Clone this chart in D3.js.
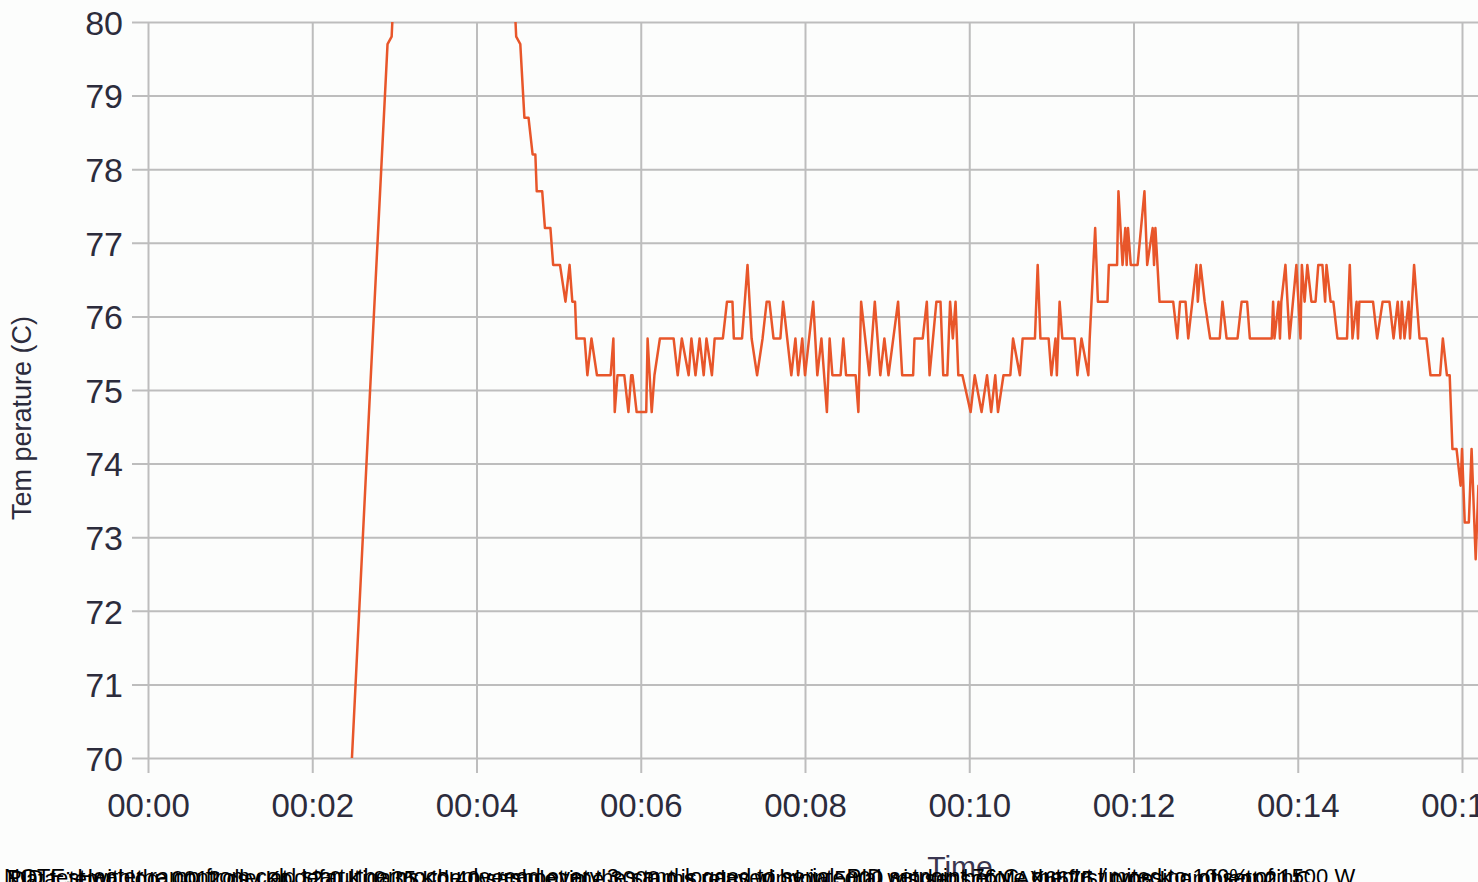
<!DOCTYPE html>
<html>

<head>
  <title>Temperature log</title>
  <script src="https://cdn.jsdelivr.net/npm/d3@7"></script>
  <style type="text/css">
    body {
      margin: 0;
      background-color: #fcfdfc;
      overflow: hidden;
    }

    text {
      font-family: "Liberation Sans", Arial, sans-serif;
      fill: #2c2c3c;
    }

    .grid line {
      stroke: #bdbdbd;
      stroke-width: 2;
    }

    .temp-line {
      fill: none;
      stroke: #e8562a;
      stroke-width: 2.5;
      stroke-linejoin: round;
    }
  </style>
</head>

<body>
  <div id="chartArea"></div>
  <script type="text/javascript">
    // elapsed time in seconds
    let timeSec = [
      126, 149, 162, 175, 178, 181, 206, 243, 261, 269, 272, 275, 278, 281, 283, 284, 288, 290, 294, 296,
      301, 305, 308, 310, 312, 313, 319, 321, 324, 328, 338, 340, 341, 343, 348, 351, 353, 354, 357, 364,
      365, 368, 370, 374, 379, 384, 387, 390, 395, 397, 400, 403, 406, 408, 412, 414, 420, 423, 427, 428,
      434, 438, 441, 445, 449, 452, 454, 457, 462, 464, 467, 470, 473, 475, 478, 480, 486, 489, 492, 496,
      498, 500, 506, 508, 510, 517, 519, 521, 527, 531, 535, 538, 541, 548, 551, 559, 560, 566, 569, 571,
      576, 579, 581, 584, 586, 588, 590, 592, 595, 601, 604, 609, 613, 616, 619, 621, 625, 630, 632, 637,
      639, 648, 650, 652, 658, 660, 663, 664, 666, 668, 677, 679, 682, 687, 688, 692, 694, 701, 702, 708,
      709, 712, 714, 715, 716, 718, 723, 728, 730, 734, 735, 736, 739, 749, 752, 754, 758, 760, 763, 766,
      767, 769, 772, 776, 783, 785, 788, 796, 799, 803, 805, 821, 822, 823, 826, 827, 828, 831, 834, 839,
      842, 843, 845, 847, 850, 853, 855, 858, 860, 861, 864, 866, 869, 876, 878, 880, 883, 884, 885, 889,
      895, 898, 902, 907, 910, 913, 915, 916, 918, 921, 922, 925, 929, 934, 937, 944, 946, 949, 951, 953,
      956, 959, 960, 962, 965, 967, 970, 972, 973
    ];

    // temperature in degrees C
    let tempC = [
      61.3, 70.0, 74.9, 79.7, 79.8, 81.0, 88.0, 86.5, 83.0, 79.8, 79.7, 78.7, 78.7, 78.2, 78.2, 77.7, 77.7, 77.2, 77.2, 76.7,
      76.7, 76.2, 76.7, 76.2, 76.2, 75.7, 75.7, 75.2, 75.7, 75.2, 75.2, 75.7, 74.7, 75.2, 75.2, 74.7, 75.2, 75.2, 74.7, 74.7,
      75.7, 74.7, 75.2, 75.7, 75.7, 75.7, 75.2, 75.7, 75.2, 75.7, 75.2, 75.7, 75.2, 75.7, 75.2, 75.7, 75.7, 76.2, 76.2, 75.7,
      75.7, 76.7, 75.7, 75.2, 75.7, 76.2, 76.2, 75.7, 75.7, 76.2, 75.7, 75.2, 75.7, 75.2, 75.7, 75.2, 76.2, 75.2, 75.7, 74.7,
      75.7, 75.2, 75.2, 75.7, 75.2, 75.2, 74.7, 76.2, 75.2, 76.2, 75.2, 75.7, 75.2, 76.2, 75.2, 75.2, 75.7, 75.7, 76.2, 75.2,
      76.2, 76.2, 75.2, 75.2, 76.2, 75.7, 76.2, 75.2, 75.2, 74.7, 75.2, 74.7, 75.2, 74.7, 75.2, 74.7, 75.2, 75.2, 75.7, 75.2,
      75.7, 75.7, 76.7, 75.7, 75.7, 75.2, 75.7, 75.2, 76.2, 75.7, 75.7, 75.2, 75.7, 75.2, 75.7, 77.2, 76.2, 76.2, 76.7, 76.7,
      77.7, 76.7, 77.2, 76.7, 77.2, 76.7, 76.7, 77.7, 76.7, 77.2, 76.7, 77.2, 76.2, 76.2, 75.7, 76.2, 76.2, 75.7, 76.2, 76.7,
      76.2, 76.7, 76.2, 75.7, 75.7, 76.2, 75.7, 75.7, 76.2, 76.2, 75.7, 75.7, 76.2, 75.7, 76.2, 75.7, 76.2, 76.7, 75.7, 76.7,
      75.7, 76.7, 76.2, 76.7, 76.2, 76.2, 76.7, 76.7, 76.2, 76.7, 76.2, 76.2, 75.7, 75.7, 76.7, 75.7, 76.2, 75.7, 76.2, 76.2,
      76.2, 75.7, 76.2, 76.2, 75.7, 76.2, 75.7, 76.2, 75.7, 76.2, 75.7, 76.7, 75.7, 75.7, 75.2, 75.2, 75.7, 75.2, 75.2, 74.2,
      74.2, 73.7, 74.2, 73.2, 73.2, 74.2, 72.7, 73.7, 73.2
    ];

    let yTickValues = [70, 71, 72, 73, 74, 75, 76, 77, 78, 79, 80];
    let xTickValues = [0, 120, 240, 360, 480, 600, 720, 840, 960];
    let xTickLabels = ['00:00', '00:02', '00:04', '00:06', '00:08', '00:10', '00:12', '00:14', '00:16'];

    // overlapping caption lines under the chart
    let footerLines = [
      'NOTE: Heater ramp from cold start, thermocouple read every 3 s and logged to serial, PID setpoint 76 C, output limited to 100% of 1500 W',
      'PID test with the controller at default gains; the overshoot at the start is caused by integral windup before the first crossing of setpoint',
      'Data: temp_log_0012.csv  Kp 12.0  Ki 0.35  Kd 40  sample time 3000 ms  relay window 5000 ms  sensor MAX6675 / type K  ambient 21 C'
    ];

    let width = 1478;
    let height = 882;
    let margin = {
      top: 22,
      left: 148,
      bottom: 124
    };

    let data = timeSec.map((t, i) => {
      return { t: t, v: tempC[i] };
    });

    let xScale = d3.scaleLinear()
      .domain([0, 960])
      .range([margin.left, 1462]);

    let yScale = d3.scaleLinear()
      .domain([70, 80])
      .range([height - margin.bottom, margin.top]);

    let svg = d3.select('#chartArea').append('svg')
      .attr('width', width)
      .attr('height', height);

    svg.append('defs').append('clipPath')
      .attr('id', 'plotClip')
      .append('rect')
      .attr('x', margin.left)
      .attr('y', yScale(80))
      .attr('width', width - margin.left)
      .attr('height', yScale(70) - yScale(80));

    // horizontal grid + y labels
    let yAxis = svg.append('g')
      .attr('class', 'grid')
      .attr('transform', `translate(${margin.left}, 0)`)
      .call(d3.axisLeft(yScale)
        .tickValues(yTickValues)
        .tickSize(-(width - margin.left))
        .tickSizeOuter(0)
        .tickPadding(0));
    yAxis.select('.domain').remove();
    yAxis.selectAll('.tick line')
      .attr('x1', -16);
    yAxis.selectAll('.tick text')
      .attr('x', -25)
      .attr('dy', '0.36em')
      .style('font-size', '34px')
      .style('font-family', '"Liberation Sans", Arial, sans-serif')
      .attr('fill', '#2c2c3c');

    // vertical grid + x labels
    let xAxis = svg.append('g')
      .attr('class', 'grid')
      .attr('transform', `translate(0, ${margin.top})`)
      .call(d3.axisBottom(xScale)
        .tickValues(xTickValues)
        .tickFormat((d, i) => {
          return xTickLabels[i];
        })
        .tickSize(yScale(70) - margin.top + 15)
        .tickSizeOuter(0));
    xAxis.select('.domain').remove();
    xAxis.selectAll('.tick text')
      .attr('y', 817 - margin.top)
      .attr('dy', 0)
      .style('font-size', '33px')
      .style('font-family', '"Liberation Sans", Arial, sans-serif')
      .attr('fill', '#2c2c3c');

    svg.append('path')
      .datum(data)
      .attr('class', 'temp-line')
      .attr('clip-path', 'url(#plotClip)')
      .attr('d', d3.line()
        .x(d => {
          return xScale(d.t);
        })
        .y(d => {
          return yScale(d.v);
        }));

    svg.append('text')
      .attr('transform', 'translate(31, 418) rotate(-90)')
      .attr('text-anchor', 'middle')
      .style('font-size', '27px')
      .text('Tem perature (C)');

    svg.append('text')
      .attr('x', 960)
      .attr('y', 877)
      .attr('text-anchor', 'middle')
      .style('font-size', '30px')
      .style('fill', '#3a3650')
      .text('Time');

    svg.selectAll('.footer')
      .data(footerLines)
      .enter()
      .append('text')
      .attr('class', 'footer')
      .attr('x', (d, i) => {
        return 4 + i * 3;
      })
      .attr('y', (d, i) => {
        return 884 + i;
      })
      .style('font-size', '22px')
      .style('fill', '#000')
      .text(d => {
        return d;
      });
  </script>
</body>

</html>
